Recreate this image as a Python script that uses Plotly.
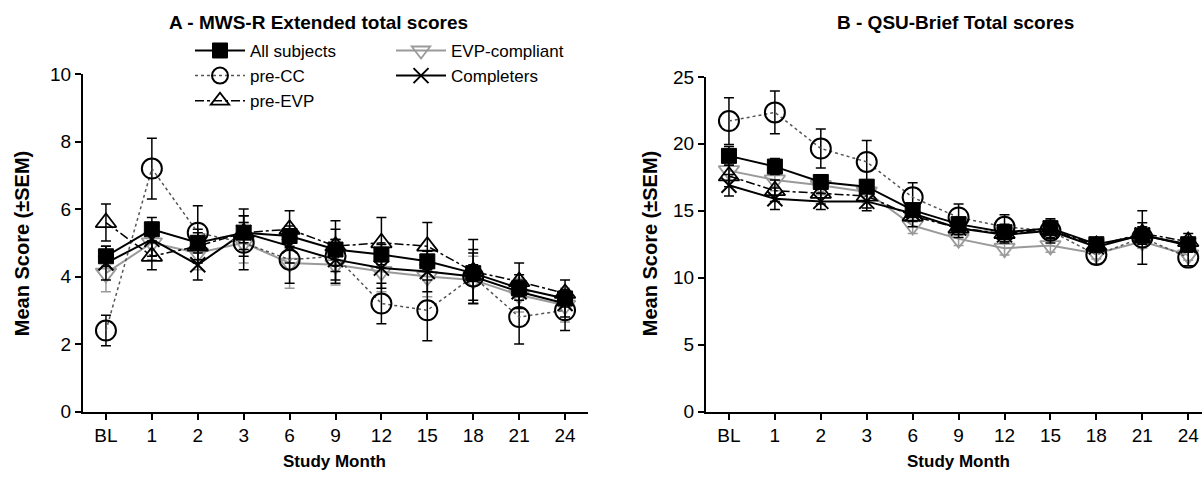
import plotly.graph_objects as go

months = ["BL", "1", "2", "3", "6", "9", "12", "15", "18", "21", "24"]

# Panel A - MWS-R Extended total scores
A_all = [4.6, 5.4, 5.0, 5.3, 5.2, 4.8, 4.65, 4.45, 4.1, 3.65, 3.35]
A_all_sem = [0.3, 0.35, 0.3, 0.3, 0.3, 0.3, 0.3, 0.3, 0.25, 0.25, 0.2]
A_precc = [2.4, 7.2, 5.3, 5.0, 4.5, 4.6, 3.2, 3.0, 4.0, 2.8, 3.0]
A_precc_sem = [0.45, 0.9, 0.8, 0.8, 0.7, 0.8, 0.6, 0.9, 0.8, 0.8, 0.6]
A_preevp = [5.6, 4.6, 4.9, 5.3, 5.4, 4.9, 5.0, 4.9, 4.15, 3.85, 3.5]
A_preevp_sem = [0.55, 0.4, 0.5, 0.7, 0.55, 0.75, 0.75, 0.7, 0.95, 0.55, 0.4]
A_evpc = [4.1, 5.0, 4.7, 5.0, 4.4, 4.35, 4.15, 4.0, 3.9, 3.45, 3.15]
A_evpc_sem = [0.55, 0.5, 0.5, 0.6, 0.75, 0.6, 0.6, 0.6, 0.7, 0.5, 0.5]
A_compl = [4.4, 5.1, 4.35, 5.3, 4.9, 4.5, 4.25, 4.15, 4.0, 3.55, 3.2]
A_compl_sem = [0.5, 0.5, 0.45, 0.5, 0.5, 0.6, 0.6, 0.6, 0.7, 0.5, 0.4]

# Panel B - QSU-Brief Total scores
B_all = [19.1, 18.3, 17.15, 16.8, 15.05, 14.0, 13.4, 13.7, 12.5, 13.15, 12.5]
B_all_sem = [0.7, 0.6, 0.5, 0.5, 0.5, 0.5, 0.5, 0.5, 0.4, 0.5, 0.4]
B_precc = [21.7, 22.35, 19.65, 18.65, 16.0, 14.5, 13.8, 13.5, 11.7, 13.0, 11.5]
B_precc_sem = [1.75, 1.6, 1.45, 1.6, 1.1, 1.0, 0.9, 0.9, 0.7, 2.0, 0.6]
B_preevp = [17.6, 16.5, 16.3, 16.1, 14.6, 13.7, 13.3, 13.6, 12.4, 13.3, 12.7]
B_preevp_sem = [0.8, 0.8, 0.8, 0.9, 0.8, 0.7, 0.7, 0.7, 0.5, 0.8, 0.6]
B_evpc = [18.0, 17.3, 16.9, 16.4, 13.9, 12.9, 12.2, 12.4, 11.8, 12.7, 11.7]
B_evpc_sem = [0.8, 0.8, 0.7, 0.8, 0.6, 0.5, 0.5, 0.5, 0.4, 0.5, 0.4]
B_compl = [16.9, 15.9, 15.7, 15.7, 14.8, 13.7, 13.2, 13.5, 12.3, 13.2, 12.4]
B_compl_sem = [0.8, 0.8, 0.6, 0.7, 0.6, 0.5, 0.5, 0.5, 0.4, 0.6, 0.5]

series_names = ["All subjects", "pre-CC", "pre-EVP", "EVP-compliant", "Completers"]

GREY = "#9a9a9a"
styles = {
    "All subjects": dict(line=dict(color="black", width=2, dash="solid"),
                         marker=dict(symbol="square", size=15, color="black",
                                     line=dict(color="black", width=1)),
                         ecolor="black", legend="legend"),
    "pre-CC": dict(line=dict(color="#555555", width=1.5, dash="dot"),
                   marker=dict(symbol="circle-open", size=20, color="black",
                               line=dict(color="black", width=2)),
                   ecolor="black", legend="legend"),
    "pre-EVP": dict(line=dict(color="black", width=1.5, dash="dashdot"),
                    marker=dict(symbol="triangle-up-open", size=18, color="black",
                                line=dict(color="black", width=1.8)),
                    ecolor="black", legend="legend"),
    "EVP-compliant": dict(line=dict(color=GREY, width=2, dash="solid"),
                          marker=dict(symbol="triangle-down-open", size=18, color=GREY,
                                      line=dict(color=GREY, width=1.8)),
                          ecolor=GREY, legend="legend2"),
    "Completers": dict(line=dict(color="black", width=2, dash="solid"),
                       marker=dict(symbol="x-thin-open", size=15, color="black",
                                   line=dict(color="black", width=2)),
                       ecolor="black", legend="legend2"),
}

panelA = [(A_all, A_all_sem), (A_precc, A_precc_sem), (A_preevp, A_preevp_sem),
          (A_evpc, A_evpc_sem), (A_compl, A_compl_sem)]
panelB = [(B_all, B_all_sem), (B_precc, B_precc_sem), (B_preevp, B_preevp_sem),
          (B_evpc, B_evpc_sem), (B_compl, B_compl_sem)]

fig = go.Figure()
draw_order = [3, 4, 2, 1, 0]
for panel, (xa, ya) in ((panelA, ("x", "y")), (panelB, ("x2", "y2"))):
    for i in draw_order:
        name = series_names[i]
        vals, sem = panel[i]
        st = styles[name]
        fig.add_trace(go.Scatter(
            x=months, y=vals, name=name, mode="lines+markers",
            line=st["line"], marker=st["marker"],
            error_y=dict(type="data", array=sem, visible=True, color=st["ecolor"],
                         thickness=1.5, width=5),
            xaxis=xa, yaxis=ya,
            legend=st["legend"],
            showlegend=(xa == "x"),
            legendrank=i + 1,
            cliponaxis=False,
        ))

font_family = "Liberation Sans, Arial, sans-serif"
axis_common = dict(showline=True, linecolor="black", linewidth=2, ticks="outside",
                   tickwidth=2, ticklen=6, tickcolor="black", showgrid=False,
                   zeroline=False, tickfont=dict(size=19, color="black", family=font_family))

H = 477.0
W = 1202.0
ybot = 1 - 420 / H
fig.update_layout(
    width=1202, height=477,
    margin=dict(l=0, r=0, t=0, b=0),
    paper_bgcolor="white", plot_bgcolor="white",
    font=dict(family=font_family, color="black", size=19),
    xaxis=dict(domain=[83 / W, 588 / W], type="category", range=[-0.5, 10.5],
               anchor="y", **axis_common),
    yaxis=dict(domain=[ybot, 1 - 67 / H], range=[0, 10], tickvals=[0, 2, 4, 6, 8, 10],
               anchor="x", **axis_common),
    xaxis2=dict(domain=[706 / W, 1.0], type="category", range=[-0.5, 10.3],
                anchor="y2", **axis_common),
    yaxis2=dict(domain=[ybot, 1 - 70 / H], range=[0, 25], tickvals=[0, 5, 10, 15, 20, 25],
                anchor="x2", **axis_common),
    legend=dict(x=190 / W, y=1 - 24 / H, xanchor="left", yanchor="top",
                bgcolor="rgba(0,0,0,0)", font=dict(size=17, family=font_family),
                tracegroupgap=0, itemwidth=50, traceorder="normal"),
    legend2=dict(x=391 / W, y=1 - 24 / H, xanchor="left", yanchor="top",
                 bgcolor="rgba(0,0,0,0)", font=dict(size=17, family=font_family),
                 tracegroupgap=0, itemwidth=50, traceorder="normal"),
    showlegend=True,
)

ann = [
    dict(text="<b>A - MWS-R Extended total scores</b>", x=318 / W, y=1 - 13 / H, size=19),
    dict(text="<b>B - QSU-Brief Total scores</b>", x=955 / W, y=1 - 13 / H, size=19),
    dict(text="<b>Study Month</b>", x=335 / W, y=1 - 472 / H, size=17),
    dict(text="<b>Study Month</b>", x=958 / W, y=1 - 472 / H, size=17),
]
for a in ann:
    fig.add_annotation(text=a["text"], x=a["x"], y=a["y"], xref="paper", yref="paper",
                       showarrow=False, xanchor="center", yanchor="middle",
                       font=dict(size=a["size"], color="black", family=font_family))
for xc in (22, 650):
    fig.add_annotation(text="<b>Mean Score (±SEM)</b>", x=xc / W, y=1 - 245 / H,
                       xref="paper", yref="paper", showarrow=False, textangle=-90,
                       xanchor="center", yanchor="middle",
                       font=dict(size=20, color="black", family=font_family))

fig.write_html("out.html")
